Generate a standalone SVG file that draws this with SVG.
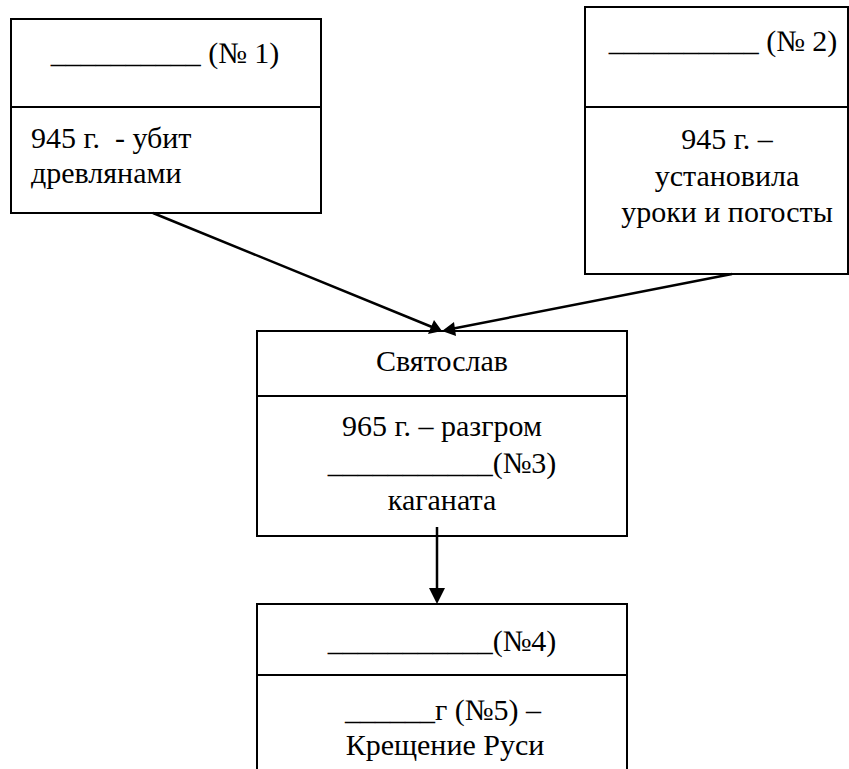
<svg xmlns="http://www.w3.org/2000/svg" width="849" height="769" viewBox="0 0 849 769">
  <rect width="849" height="769" fill="#ffffff"/>
  <g id="node1">
    <path d="M11,19 H321 V213 H11 Z M11,107 H321" fill="#ffffff" stroke="#000000" stroke-width="2"/>
    <text x="165" y="63" font-size="30" font-family="Liberation Serif" text-anchor="middle">__________ (№ 1)</text>
    <text x="31" y="148" font-size="30" font-family="Liberation Serif" xml:space="preserve">945 г.  - убит</text>
    <text x="31" y="183" font-size="30" font-family="Liberation Serif">древлянами</text>
  </g>
  <g id="node2">
    <path d="M585,7 H848 V274 H585 Z M585,107 H848" fill="#ffffff" stroke="#000000" stroke-width="2"/>
    <text x="723" y="51" font-size="30" font-family="Liberation Serif" text-anchor="middle">__________ (№ 2)</text>
    <text x="727" y="149" font-size="30" font-family="Liberation Serif" text-anchor="middle">945 г. –</text>
    <text x="727" y="186" font-size="30" font-family="Liberation Serif" text-anchor="middle">установила</text>
    <text x="727" y="222" font-size="30" font-family="Liberation Serif" text-anchor="middle">уроки и погосты</text>
  </g>
  <g id="node3">
    <path d="M257,331 H627 V536 H257 Z M257,396 H627" fill="#ffffff" stroke="#000000" stroke-width="2"/>
    <text x="442" y="371" font-size="30" font-family="Liberation Serif" text-anchor="middle">Святослав</text>
    <text x="442" y="436" font-size="30" font-family="Liberation Serif" text-anchor="middle">965 г. – разгром</text>
    <text x="442" y="473" font-size="30" font-family="Liberation Serif" text-anchor="middle">___________(№3)</text>
    <text x="442" y="510" font-size="30" font-family="Liberation Serif" text-anchor="middle">каганата</text>
  </g>
  <g id="node4">
    <path d="M257,804 V604 H627 V804 Z M257,675 H627" fill="#ffffff" stroke="#000000" stroke-width="2"/>
    <text x="442" y="651" font-size="30" font-family="Liberation Serif" text-anchor="middle">___________(№4)</text>
    <text x="443" y="720" font-size="30" font-family="Liberation Serif" text-anchor="middle">______г (№5) –</text>
    <text x="445" y="755" font-size="30" font-family="Liberation Serif" text-anchor="middle">Крещение Руси</text>
  </g>
  <g id="connectors">
    <path d="M153,213 L432,327 M732,274 L451,329 M437,527 L437,590" fill="none" stroke="#000000" stroke-width="2.5"/>
    <path d="M442,331 L428,334 L434,320 Z M442,331 L454,322 L456,336 Z M437,604 L429,588 L445,588 Z" fill="#000000"/>
  </g>
</svg>
